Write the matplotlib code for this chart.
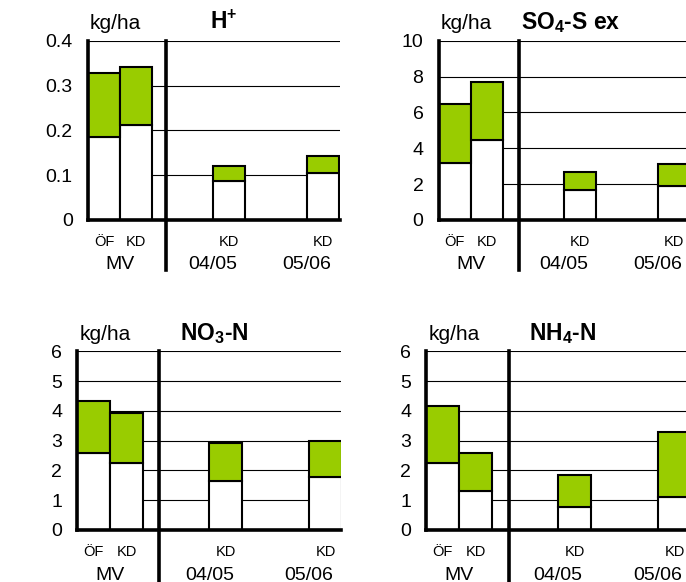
import numpy as np
import matplotlib
matplotlib.use("Agg")
import matplotlib.pyplot as plt

plt.rcParams['font.family'] = ['Liberation Sans', 'DejaVu Sans']
plt.rcParams['mathtext.fontset'] = 'custom'
plt.rcParams['mathtext.rm'] = 'Liberation Sans:bold'
plt.rcParams['mathtext.bf'] = 'Liberation Sans:bold'

## Data :

sub_labels = ['ÖF', 'KD', 'KD', 'KD']
group_labels = ['MV', '04/05', '05/06']

# lower (white) part and total height of each stacked bar
h_low = [0.186, 0.212, 0.086, 0.104]
h_tot = [0.327, 0.342, 0.120, 0.143]
so4_low = [3.2, 4.45, 1.67, 1.90]
so4_tot = [6.45, 7.68, 2.68, 3.12]
no3_low = [2.57, 2.24, 1.64, 1.77]
no3_tot = [4.33, 3.92, 2.91, 2.98]
nh4_low = [2.24, 1.31, 0.77, 1.11]
nh4_tot = [4.17, 2.57, 1.86, 3.30]

titles = [r'H$^\mathregular{+}$', r'SO$_\mathregular{4}$-S ex',
          r'NO$_\mathregular{3}$-N', r'NH$_\mathregular{4}$-N']
yticks = [[0, 0.1, 0.2, 0.3, 0.4], [0, 2, 4, 6, 8, 10],
          [0, 1, 2, 3, 4, 5, 6], [0, 1, 2, 3, 4, 5, 6]]
yticklabels = [['0', '0.1', '0.2', '0.3', '0.4'], None, None, None]

GREEN = '#99cc00'
W, H = 686, 582

fig = plt.figure(figsize=(W / 100, H / 100), dpi=100)

# layout of each panel in pixels: left, top, bottom, right, bar width,
# bar left edges, separator x, title x, separator bottom
panels = [
    dict(left=88, top=40.7, bot=220, right=340, unit=32,
         xs=[0, 1, 3.9, 6.84], sep=2.43, tx=210, sepbot=270),
    dict(left=438.7, top=40.7, bot=220, right=686, unit=32,
         xs=[0, 1, 3.92, 6.85], sep=2.5, tx=521, sepbot=270),
    dict(left=77.3, top=351.3, bot=530, right=341, unit=33,
         xs=[0, 1, 4.0, 7.02], sep=2.48, tx=180, sepbot=582),
    dict(left=426.3, top=351.3, bot=530, right=686, unit=33,
         xs=[0, 1, 3.99, 7.02], sep=2.5, tx=528.7, sepbot=582),
]
data = [(h_low, h_tot), (so4_low, so4_tot), (no3_low, no3_tot), (nh4_low, nh4_tot)]


def fx(px):
    return px / W


def fy(py):
    return 1 - py / H


for i, p in enumerate(panels):
    low, tot = data[i]
    ax = fig.add_axes([fx(p['left']), fy(p['bot']), (p['right'] - p['left']) / W,
                       (p['bot'] - p['top']) / H])
    ymax = yticks[i][-1]
    xmax = (p['right'] - p['left']) / p['unit']
    ax.set_xlim(0, xmax)
    ax.set_ylim(0, ymax)

    # grid lines behind the bars
    for t in yticks[i][1:]:
        ax.axhline(t, color='black', lw=0.8, zorder=1)

    low = np.array(low)
    tot = np.array(tot)
    ax.bar(p['xs'], low, width=1, align='edge', color='white',
           edgecolor='black', linewidth=1.5, zorder=2)
    ax.bar(p['xs'], tot - low, bottom=low, width=1, align='edge', color=GREEN,
           edgecolor='black', linewidth=1.5, zorder=2)

    # separator between MV and the KD years
    trans = ax.get_xaxis_transform()
    ybot = (p['bot'] - p['sepbot']) / (p['bot'] - p['top'])
    ax.plot([p['sep'], p['sep']], [ybot, 1], color='black', lw=2.6,
            transform=trans, clip_on=False, zorder=5)

    for s in ['top', 'right']:
        ax.spines[s].set_visible(False)
    ax.spines['left'].set_linewidth(2.6)
    ax.spines['bottom'].set_linewidth(2.6)
    ax.spines['left'].set_zorder(6)
    ax.spines['bottom'].set_zorder(6)

    ax.set_yticks(yticks[i])
    if yticklabels[i] is not None:
        ax.set_yticklabels(yticklabels[i])
    ax.tick_params(axis='y', length=0, pad=11, labelsize=14)
    ax.set_xticks([])

    # category labels under the bars
    for x, lab in zip(p['xs'], sub_labels):
        fig.text(fx(p['left'] + (x + 0.5) * p['unit']), fy(p['bot'] + 22), lab,
                 ha='center', va='center', fontsize=10.5)
    for x, lab in zip([1, p['xs'][2], p['xs'][3]], group_labels):
        fig.text(fx(p['left'] + x * p['unit']), fy(p['bot'] + 45), lab,
                 ha='center', va='center', fontsize=14)

    fig.text(fx(p['left'] + 2), fy(p['top'] - 11.7), 'kg/ha', ha='left',
             va='baseline', fontsize=15)
    fig.text(fx(p['tx']), fy(p['top'] - 11.7), titles[i], ha='left',
             va='baseline', fontsize=16.5, fontweight='bold')

plt.savefig('out.png', dpi=100)
